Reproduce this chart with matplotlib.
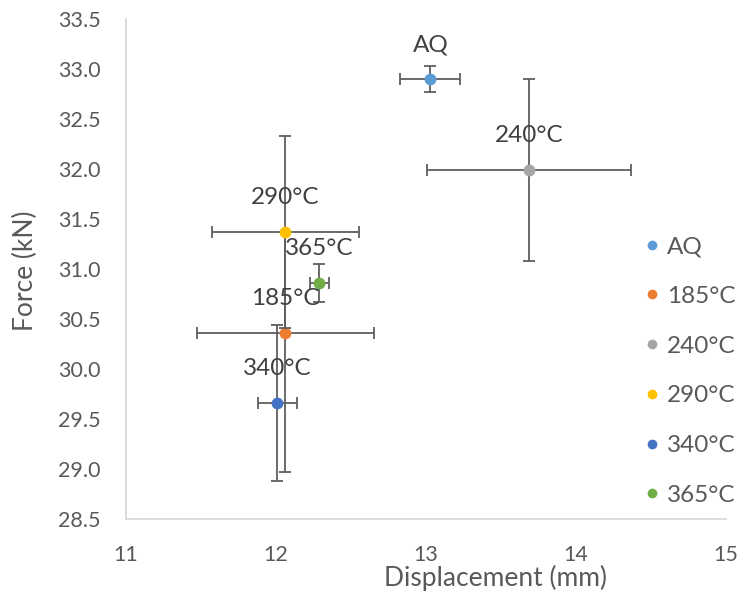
import matplotlib
matplotlib.use("Agg")
import matplotlib.pyplot as plt
from matplotlib.lines import Line2D

plt.rcParams['font.family'] = ['Lato', 'DejaVu Sans']

# Heat-treatment conditions and measured results
labels = ["AQ", "185°C", "240°C", "290°C", "340°C", "365°C"]
displacement = [13.03, 12.06, 13.69, 12.06, 12.01, 12.29]
force = [32.90, 30.36, 31.99, 31.37, 29.66, 30.86]
disp_err = [0.20, 0.59, 0.68, 0.49, 0.13, 0.063]
force_err_low = [0.13, 1.39, 0.91, 0.96, 0.78, 0.19]
force_err_high = [0.13, 1.01, 0.91, 0.96, 0.78, 0.19]
colors = ["#5B9BD5", "#ED7D31", "#A5A5A5", "#FFC000", "#4472C4", "#70AD47"]

x_ticks = [11, 12, 13, 14, 15]
y_ticks = [28.5, 29.0, 29.5, 30.0, 30.5, 31.0, 31.5, 32.0, 32.5, 33.0, 33.5]

text_color = "#595959"
err_color = "#5f5f5f"

fig = plt.figure(figsize=(7.44, 5.99), dpi=100)
ax = fig.add_axes([126 / 744, 80 / 599, 600 / 744, 500 / 599])

for i in range(len(labels)):
    ax.errorbar(displacement[i], force[i],
                xerr=disp_err[i],
                yerr=[[force_err_low[i]], [force_err_high[i]]],
                fmt='none', ecolor=err_color, elinewidth=1.3,
                capsize=4.5, capthick=1.3, zorder=2 + 2 * i)
    ax.plot(displacement[i], force[i], 'o', color=colors[i],
            markersize=8.5, markeredgewidth=0, zorder=3 + 2 * i)
    ax.annotate(labels[i], (displacement[i], force[i]),
                xytext=(0, 24.5), textcoords='offset points',
                ha='center', va='center', fontsize=17.5,
                color="#404040", zorder=20)

ax.set_xlim(11, 15)
ax.set_ylim(28.5, 33.5)
ax.set_xticks(x_ticks)
ax.set_yticks(y_ticks)
ax.set_xticklabels([str(v) for v in x_ticks])
ax.set_yticklabels([f"{v:.1f}" for v in y_ticks])
ax.tick_params(axis='both', length=0, labelsize=15.5, labelcolor=text_color)
ax.tick_params(axis='y', pad=18)
ax.tick_params(axis='x', pad=19)

for side in ['top', 'right']:
    ax.spines[side].set_visible(False)
for side in ['left', 'bottom']:
    ax.spines[side].set_color("#D9D9D9")
    ax.spines[side].set_linewidth(1.3)

fig.text(495 / 744, 1 - 578 / 599, "Displacement (mm)", ha='center',
         va='center', fontsize=19, color=text_color)
fig.text(25 / 744, 1 - 271 / 599, "Force (kN)", ha='center', va='center',
         rotation=90, fontsize=19, color=text_color)

handles = [Line2D([], [], linestyle='none', marker='o', color=c,
                  markersize=7, markeredgewidth=0) for c in colors]
fig.legend(handles, labels, loc='center left',
           bbox_to_anchor=(634 / 744, 1 - 371 / 599), frameon=False,
           fontsize=17.5, labelcolor=text_color, handlelength=0.5,
           handletextpad=0.35, labelspacing=1.18, borderpad=0)

fig.savefig("out.png", dpi=100, facecolor="white")
